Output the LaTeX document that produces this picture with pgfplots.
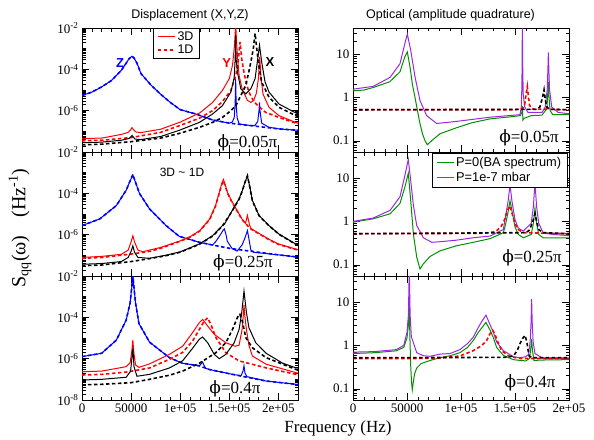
\documentclass[border=0pt]{standalone}
\usepackage{pgfplots}
\pgfplotsset{compat=1.18}
\usepackage{fontspec}
\setmainfont{Liberation Serif}
\setsansfont{Liberation Sans}
\newfontfamily\dvs{DejaVu Serif}
\newcommand{\phis}{{\dvs ϕ}}
\definecolor{cblue}{RGB}{0,0,255}
\definecolor{cred}{RGB}{255,0,0}
\definecolor{cgreen}{RGB}{0,145,0}
\definecolor{cviolet}{RGB}{155,40,220}
\tikzset{sol/.style={line width=1.0pt, mark=none, solid},
  dsh/.style={line width=1.6pt, mark=none, dash pattern=on 3.5pt off 2.5pt}}
\pgfplotsset{every axis/.append style={scale only axis, width=216pt, height=124pt, xmin=0,
    tick align=inside, major tick length=7pt, minor tick length=3.5pt,
    xtick={0,50,100,150,200}, minor x tick num=4,
    xtick pos=both, ytick pos=both,
    every tick/.append style={black,line width=0.5pt},
    axis line style={line width=0.7pt},
    tick label style={font=\fontsize{13}{13}\selectfont}}}
\begin{document}
\begin{tikzpicture}
\useasboundingbox (0,0) rectangle (594pt,-439pt);
% ---------------- L1
\begin{axis}[ymode=log, xmax=220, ymin=1e-8, ymax=1e-2, ytick={1e-8,1e-6,1e-4,1e-2},
  minor ytick={2e-8,3e-8,4e-8,5e-8,6e-8,7e-8,8e-8,9e-8,1e-7,2e-7,3e-7,4e-7,5e-7,6e-7,7e-7,8e-7,9e-7,2e-6,3e-6,4e-6,5e-6,6e-6,7e-6,8e-6,9e-6,1e-5,2e-5,3e-5,4e-5,5e-5,6e-5,7e-5,8e-5,9e-5,2e-4,3e-4,4e-4,5e-4,6e-4,7e-4,8e-4,9e-4,1e-3,2e-3,3e-3,4e-3,5e-3,6e-3,7e-3,8e-3,9e-3},
  yticklabels={,10\textsuperscript{-6},10\textsuperscript{-4},10\textsuperscript{-2}}, xticklabels={},
  at={(82pt,-28pt)}, anchor=north west,
  legend style={at={(0.327,1)}, anchor=north west, font=\sffamily\fontsize{12.5}{12.5}\selectfont,
    draw=black, inner xsep=4pt, inner ysep=1.5pt, row sep=-1pt}]
\addplot[sol,cblue,forget plot] coordinates {(0,5.4e-6)(10,7.9e-6)(20,1.41e-5)(30,2.88e-5)(40,8.9e-5)(45,2.0e-4)(48,3.3e-4)(51,4.3e-4)(53,3.5e-4)(56,2.0e-4)(60,6.3e-5)(70,1.78e-5)(80,6.3e-6)(90,2.5e-6)(100,1.12e-6)(116,6.9e-7)(133,3.55e-7)(150,2.5e-7)(153,2.8e-7)(155,4.5e-7)(156,2.2e-6)(156.5,3.55e-5)(157,2.2e-6)(158,4.5e-7)(160,2.3e-7)(167,2.0e-7)(176,1.9e-7)(179,3.0e-7)(180.3,1.0e-6)(180.8,2.5e-6)(181.3,1.0e-6)(183,2.5e-7)(190,1.6e-7)(200,1.32e-7)(220,1.12e-7)};
\addplot[dsh,cblue,forget plot] coordinates {(0,5.4e-6)(10,7.9e-6)(20,1.41e-5)(30,2.88e-5)(40,8.9e-5)(45,2.0e-4)(48,3.3e-4)(51,4.3e-4)(53,3.5e-4)(56,2.0e-4)(60,6.3e-5)(70,1.78e-5)(80,6.3e-6)(90,2.5e-6)(100,1.12e-6)(116,6.9e-7)(133,3.55e-7)(150,2.5e-7)(167,2.0e-7)(200,1.32e-7)(220,1.12e-7)};
\addplot[sol,cred] coordinates {(0,4.5e-8)(20,4.7e-8)(40,7.1e-8)(47,8.9e-8)(49.5,1.2e-7)(51,1.51e-7)(52.5,1.2e-7)(55,9.3e-8)(60,8.7e-8)(80,1.26e-7)(100,2.8e-7)(120,7.8e-7)(133,2.5e-6)(143,9.5e-6)(150,3.55e-5)(153.3,1.58e-4)(155,1.0e-3)(156,5e-3)(156.5,2e-2)(157,5e-3)(158.3,4.8e-4)(160,5.0e-5)(163.4,1.0e-5)(168.5,3.16e-6)(172,2.5e-6)(175,3.16e-6)(177.6,7.1e-6)(179.7,3.55e-5)(181,4.0e-4)(182.4,3.55e-5)(184.4,6.3e-6)(190.5,1.45e-6)(200.6,5.75e-7)(217.6,2.7e-7)(220,2.5e-7)};
\addlegendentry{3D}
\addplot[dsh,cred] coordinates {(0,3.5e-8)(20,3.7e-8)(50,5.0e-8)(80,8.9e-8)(99,1.86e-7)(119.5,4.3e-7)(133,1.0e-6)(143,2.75e-6)(151.6,9.5e-6)(156.7,5.0e-5)(159.3,3.16e-4)(161,2.1e-3)(162.7,3.16e-4)(165,7.0e-5)(167,2.5e-5)(170,8.0e-6)(175,2.8e-6)(180,1.6e-6)(187,8.3e-7)(200.6,4.7e-7)(217.6,2.5e-7)(220,2.4e-7)};
\addlegendentry{1D}
\addplot[sol,black,forget plot] coordinates {(0,2.8e-8)(20,3.0e-8)(40,3.7e-8)(48,4.5e-8)(51,6.3e-8)(54,4.2e-8)(60,4.0e-8)(80,5.6e-8)(99,1.12e-7)(119.5,2.7e-7)(133,6.9e-7)(143,1.74e-6)(151.6,7.9e-6)(155,4.0e-5)(156,3.16e-4)(156.5,4.5e-3)(157,3.16e-4)(158.3,7.4e-5)(161.7,1.15e-5)(166.8,6.5e-6)(172,1.15e-5)(176.3,3.55e-5)(179,3.3e-4)(180.8,1.48e-3)(183,2.3e-4)(186.4,2.5e-5)(190.5,7.9e-6)(200.6,2.1e-6)(217.6,7.8e-7)(220,7.1e-7)};
\addplot[dsh,black,forget plot] coordinates {(0,2.2e-8)(20,2.4e-8)(50,3.16e-8)(80,4.7e-8)(99,7.9e-8)(119.5,1.55e-7)(133,2.7e-7)(143,4.7e-7)(151.6,1.0e-6)(156.7,1.74e-6)(160,3.7e-6)(166.8,1.66e-5)(170,7.9e-5)(172,2.3e-4)(174.5,1.0e-3)(176.3,5.5e-3)(178,1.0e-3)(180,1.58e-4)(183,2.4e-5)(190.5,4.5e-6)(200.6,1.45e-6)(217.6,5.75e-7)(220,5.2e-7)};
\end{axis}
% ---------------- L2
\begin{axis}[ymode=log, xmax=220, ymin=1e-8, ymax=1e-2, ytick={1e-8,1e-6,1e-4,1e-2},
  minor ytick={2e-8,3e-8,4e-8,5e-8,6e-8,7e-8,8e-8,9e-8,1e-7,2e-7,3e-7,4e-7,5e-7,6e-7,7e-7,8e-7,9e-7,2e-6,3e-6,4e-6,5e-6,6e-6,7e-6,8e-6,9e-6,1e-5,2e-5,3e-5,4e-5,5e-5,6e-5,7e-5,8e-5,9e-5,2e-4,3e-4,4e-4,5e-4,6e-4,7e-4,8e-4,9e-4,1e-3,2e-3,3e-3,4e-3,5e-3,6e-3,7e-3,8e-3,9e-3},
  yticklabels={,10\textsuperscript{-6},10\textsuperscript{-4},10\textsuperscript{-2}}, xticklabels={},
  at={(82pt,-152pt)}, anchor=north west]
\addplot[sol,cblue] coordinates {(0,2.75e-6)(18,5.75e-6)(35,2.57e-5)(45,1.41e-4)(49,4.0e-4)(51.8,7.6e-4)(54,4.0e-4)(58.5,1.0e-4)(68.7,1.78e-5)(85.6,2.75e-6)(99,8.3e-7)(119.5,4.3e-7)(133,3.16e-7)(136,4.5e-7)(141,1.0e-6)(143.5,1.58e-6)(145,1.9e-6)(146.5,1.1e-6)(148,4.8e-7)(153,2.1e-7)(158,1.6e-7)(163,3.16e-7)(166,7.0e-7)(168.5,1.58e-6)(170,6.3e-7)(172,1.8e-7)(175,1.4e-7)(200.6,1.05e-7)(217.6,8.5e-8)(220,8.3e-8)};
\addplot[dsh,cblue] coordinates {(0,2.75e-6)(18,5.75e-6)(35,2.57e-5)(45,1.41e-4)(49,4.0e-4)(51.8,8.3e-4)(54,4.0e-4)(58.5,1.0e-4)(68.7,1.78e-5)(85.6,2.75e-6)(99,8.3e-7)(119.5,4.3e-7)(133,3.16e-7)(150,2.2e-7)(166.8,1.7e-7)(200.6,1.05e-7)(217.6,8.5e-8)(220,8.3e-8)};
\addplot[sol,cred] coordinates {(0,7.9e-8)(20,8.9e-8)(40,1.12e-7)(47,1.78e-7)(50,4.5e-7)(51.8,8.9e-7)(53.5,4.5e-7)(57,1.78e-7)(62,1.5e-7)(80,2.4e-7)(100,5.0e-7)(110,7.9e-7)(120,1.58e-6)(130,5.75e-6)(136,2.57e-5)(140,1.17e-4)(142.5,3.16e-4)(144,4.7e-4)(146,2.5e-4)(148,1.17e-4)(152,4.6e-5)(158,1.48e-5)(163,5.75e-6)(166.5,3.55e-6)(168.5,8.5e-6)(170.5,3.16e-6)(172,2.0e-6)(180,1.17e-6)(190,6.2e-7)(200,3.55e-7)(218,2.0e-7)(220,1.9e-7)};
\addplot[dsh,cred] coordinates {(0,7.2e-8)(20,7.9e-8)(50,1.15e-7)(70,1.58e-7)(80,2.2e-7)(100,4.8e-7)(110,7.6e-7)(120,1.51e-6)(130,5.4e-6)(136,2.4e-5)(140,1.1e-4)(142.5,2.8e-4)(144,4.0e-4)(146,2.24e-4)(148,1.07e-4)(152,4.3e-5)(158,1.38e-5)(163,5.4e-6)(168.5,2.75e-6)(172,1.9e-6)(180,1.12e-6)(190,5.9e-7)(200,3.4e-7)(218,1.9e-7)(220,1.82e-7)};
\addplot[sol,black] coordinates {(0,3.7e-8)(20,4.0e-8)(40,5.0e-8)(47,7.9e-8)(50,1.58e-7)(51.8,2.9e-7)(53.5,1.41e-7)(57,7.9e-8)(68.7,7.2e-8)(85,1.0e-7)(100,1.48e-7)(119.5,3.55e-7)(133,8.9e-7)(143,2.75e-6)(145,3.16e-6)(153,1.48e-5)(160,5.5e-5)(163.4,1.41e-4)(166,3.55e-4)(168.5,6.8e-4)(171,2.0e-4)(173.5,4.6e-5)(180.3,8.5e-6)(190.5,2.75e-6)(200.6,1.07e-6)(217.6,3.55e-7)(220,3.16e-7)};
\addplot[dsh,black] coordinates {(0,3.16e-8)(20,3.4e-8)(50,5.0e-8)(68.7,6.9e-8)(85,9.5e-8)(100,1.41e-7)(119.5,3.4e-7)(133,8.5e-7)(143,2.6e-6)(153,1.41e-5)(160,5.2e-5)(163.4,1.35e-4)(166,3.4e-4)(168.5,7.1e-4)(171,1.9e-4)(173.5,4.4e-5)(180.3,8.3e-6)(190.5,2.7e-6)(200.6,1.05e-6)(217.6,3.4e-7)(220,3.0e-7)};
\end{axis}
% ---------------- L3
\begin{axis}[ymode=log, xmax=220, ymin=1e-8, ymax=1e-2, ytick={1e-8,1e-6,1e-4,1e-2},
  minor ytick={2e-8,3e-8,4e-8,5e-8,6e-8,7e-8,8e-8,9e-8,1e-7,2e-7,3e-7,4e-7,5e-7,6e-7,7e-7,8e-7,9e-7,2e-6,3e-6,4e-6,5e-6,6e-6,7e-6,8e-6,9e-6,1e-5,2e-5,3e-5,4e-5,5e-5,6e-5,7e-5,8e-5,9e-5,2e-4,3e-4,4e-4,5e-4,6e-4,7e-4,8e-4,9e-4,1e-3,2e-3,3e-3,4e-3,5e-3,6e-3,7e-3,8e-3,9e-3},
  yticklabels={10\textsuperscript{-8},10\textsuperscript{-6},10\textsuperscript{-4},10\textsuperscript{-2}},
  xticklabels={0,50000,1e+05,1.5e+05,2e+05},
  at={(82pt,-276pt)}, anchor=north west]
\addplot[sol,cblue] coordinates {(0,1.26e-6)(20,1.82e-6)(35,7.9e-6)(45,7.4e-5)(49,5.0e-4)(50.8,3.16e-3)(51.8,1.26e-2)(52.8,3.16e-3)(54.5,5.0e-4)(58,5.0e-5)(68.8,6.3e-6)(89,1.12e-6)(102.5,6.0e-7)(119.5,4.5e-7)(121.5,5.8e-7)(122.8,6.9e-7)(124.5,4.5e-7)(126,3.4e-7)(129.6,3.0e-7)(153.3,1.74e-7)(162,1.5e-7)(164,2.5e-7)(165,4.5e-7)(166,2.0e-7)(168,1.35e-7)(187.5,8.3e-8)(218,5.75e-8)(220,5.6e-8)};
\addplot[dsh,cblue] coordinates {(0,1.26e-6)(20,1.82e-6)(35,7.9e-6)(45,7.4e-5)(49,5.0e-4)(50.8,3.16e-3)(51.8,1.26e-2)(52.8,3.16e-3)(54.5,5.0e-4)(58,5.0e-5)(68.8,6.3e-6)(89,1.12e-6)(102.5,6.0e-7)(119.5,4.5e-7)(129.6,3.0e-7)(153.3,1.74e-7)(187.5,8.3e-8)(218,5.75e-8)(220,5.6e-8)};
\addplot[sol,cred] coordinates {(0,2.34e-7)(20,2.5e-7)(45,4.1e-7)(49,6.3e-7)(50.8,2.5e-6)(51.8,7.9e-6)(52.8,2.0e-6)(54.5,5.0e-7)(58,3.8e-7)(68.8,5.6e-7)(89,1.62e-6)(102.5,4.0e-6)(112.6,1.82e-5)(119.5,5.5e-5)(122.8,7.9e-5)(128,3.8e-5)(134.7,1.51e-5)(146.5,5.9e-6)(156,4.0e-6)(160,4.5e-6)(163,2.5e-5)(164.3,1.26e-4)(165,4.0e-4)(165.8,1.26e-4)(167.5,2.5e-5)(170,4.5e-6)(173.5,1.35e-6)(187.5,5.4e-7)(218,2.1e-7)(220,2.0e-7)};
\addplot[dsh,cred] coordinates {(0,1.62e-7)(20,1.74e-7)(45,2.24e-7)(68.8,3.55e-7)(89,9.3e-7)(102.5,2.0e-6)(112.6,7.1e-6)(119.5,2.6e-5)(124.5,6.6e-5)(128,9.5e-5)(131.3,4.5e-5)(136.4,1.05e-5)(146.5,1.95e-6)(160,7.8e-7)(187.5,3.6e-7)(218,1.74e-7)(220,1.7e-7)};
\addplot[sol,black] coordinates {(0,9.3e-8)(20,1.0e-7)(45,1.26e-7)(49.5,2.5e-7)(51.8,3.16e-6)(53,4.0e-7)(56,1.41e-7)(68.8,1.74e-7)(89,3.55e-7)(102.5,7.9e-7)(112.6,3.16e-6)(119.5,8.7e-6)(122.8,1.12e-5)(128,5.9e-6)(134.7,1.62e-6)(139.8,1.0e-6)(146.5,1.62e-6)(155,5.9e-6)(160,2.6e-5)(162.7,1.7e-4)(165,1.86e-3)(167.5,1.7e-4)(170,3.16e-5)(177,5.9e-6)(187.5,1.82e-6)(204.5,6.0e-7)(218,3.6e-7)(220,3.5e-7)};
\addplot[dsh,black] coordinates {(0,5.4e-8)(20,5.75e-8)(50,6.9e-8)(68.8,1.0e-7)(89,1.58e-7)(102.5,2.5e-7)(119.5,6.0e-7)(136.4,1.95e-6)(146.5,5.9e-6)(153.3,2.6e-5)(157.4,7.9e-5)(159.5,1.26e-4)(160.8,1.41e-4)(163.4,6.3e-5)(166.8,1.05e-5)(173.5,3.4e-6)(187.5,1.12e-6)(218,3.0e-7)(220,2.8e-7)};
\end{axis}
% ---------------- R1
\begin{axis}[ymode=log, xmax=200, ymin=0.055, ymax=40, ytick={0.1,1,10}, yticklabels={0.1,1,10},
  minor ytick={0.06,0.07,0.08,0.09,0.2,0.3,0.4,0.5,0.6,0.7,0.8,0.9,2,3,4,5,6,7,8,9,20,30},
  xticklabels={}, at={(353pt,-28pt)}, anchor=north west]
\addplot[sol,cgreen] coordinates {(0,1.42)(10,1.48)(19,1.7)(34,2.3)(43.5,3.9)(48,8.7)(50.3,11.2)(52.8,5.0)(55,2.0)(57.4,1.0)(60,0.45)(62,0.25)(64.5,0.14)(66.7,0.1)(68.8,0.081)(72.8,0.1)(80.5,0.145)(96,0.2)(110,0.26)(127,0.32)(145,0.355)(155,0.38)(156.3,0.45)(156.8,0.63)(157.3,0.3)(158.5,0.33)(165,0.38)(175,0.39)(179.5,0.55)(180.3,1.2)(180.9,2.3)(181.5,1.0)(182.5,0.5)(185,0.4)(200,0.4)};
\addplot[sol,cviolet] coordinates {(0,1.55)(18.8,1.8)(34.3,2.9)(43.5,6.0)(48.1,17.8)(50.3,29)(53.4,12.4)(57.4,3.0)(62,0.85)(68.2,0.38)(77.5,0.25)(96,0.28)(127,0.35)(154.6,0.4)(155.8,0.6)(156.3,1.5)(156.6,6)(156.8,60)(157.1,6)(157.6,1.2)(159,0.6)(162,0.45)(175,0.45)(178,0.6)(179.8,1.5)(180.4,4)(180.9,11)(181.4,4)(182,1.5)(184,0.6)(190,0.45)(200,0.42)};
\addplot[dsh,cred] coordinates {(0,0.52)(150,0.52)(157,0.55)(159,0.7)(160.5,1.3)(161.4,1.8)(162.3,1.1)(163.5,0.65)(166,0.54)(200,0.52)};
\addplot[dsh,black] coordinates {(0,0.52)(170,0.53)(173,0.6)(175.5,1.0)(176.9,1.5)(178,0.9)(179.5,0.6)(182,0.53)(200,0.52)};
\end{axis}
% ---------------- R2
\begin{axis}[ymode=log, xmax=200, ymin=0.055, ymax=40, ytick={0.1,1,10}, yticklabels={0.1,1,10},
  minor ytick={0.06,0.07,0.08,0.09,0.2,0.3,0.4,0.5,0.6,0.7,0.8,0.9,2,3,4,5,6,7,8,9,20,30},
  xticklabels={}, at={(353pt,-152pt)}, anchor=north west,
  legend style={at={(0.992,0.99)}, anchor=north east, font=\sffamily\fontsize{12.8}{12.8}\selectfont,
    draw=black, inner xsep=4pt, inner ysep=2pt, row sep=0pt, cells={anchor=west}}]
\addplot[sol,cgreen] coordinates {(0,0.96)(18.8,1.15)(34.3,1.5)(43.5,2.6)(48.1,6.3)(51.2,12.9)(53.4,3.1)(55.9,0.52)(59,0.15)(62,0.08)(65.1,0.105)(71.3,0.155)(80.6,0.21)(96,0.275)(111.4,0.33)(126.9,0.4)(139.2,0.55)(141,0.8)(143.5,1.6)(145.4,3.0)(147.5,1.6)(150,0.75)(153,0.5)(157.7,0.42)(165,0.5)(167,0.9)(168.5,2.0)(170,0.9)(172,0.5)(176,0.42)(200,0.42)};
\addlegendentry{P=0(BA spectrum)}
\addplot[sol,cviolet] coordinates {(0,1.0)(18.8,1.2)(34.3,1.8)(43.5,3.7)(48.1,11.7)(51.2,27)(53.4,8.9)(55.9,2.35)(59,0.81)(65.1,0.42)(72.9,0.33)(80.6,0.34)(96,0.37)(111.4,0.42)(126.9,0.46)(139.2,0.65)(141,1.2)(143.5,2.8)(145.4,6.9)(147.3,2.8)(150,1.1)(153,0.7)(157.7,0.6)(165,0.9)(167,2.2)(168.5,7.9)(170,2.2)(172,0.9)(176,0.55)(185,0.5)(200,0.47)};
\addlegendentry{P=1e-7 mbar}
\addplot[dsh,cred,forget plot] coordinates {(0,0.52)(120,0.53)(132,0.58)(137,0.75)(140,1.05)(143,1.8)(145,2.3)(147,1.6)(150,0.9)(153,0.65)(158,0.55)(200,0.52)};
\addplot[dsh,black,forget plot] coordinates {(0,0.52)(160,0.55)(163,0.62)(166,0.9)(168.5,1.5)(170,1.0)(172,0.65)(176,0.55)(200,0.52)};
\end{axis}
% ---------------- R3
\begin{axis}[ymode=log, xmax=200, ymin=0.055, ymax=40, ytick={0.1,1,10}, yticklabels={0.1,1,10},
  minor ytick={0.06,0.07,0.08,0.09,0.2,0.3,0.4,0.5,0.6,0.7,0.8,0.9,2,3,4,5,6,7,8,9,20,30},
  xticklabels={0,50000,1e+05,1.5e+05,2e+05}, at={(353pt,-276pt)}, anchor=north west]
\addplot[sol,cgreen] coordinates {(0,0.65)(20,0.68)(40,0.75)(47,0.9)(50,1.5)(51.3,3.0)(52.1,7.5)(52.7,1.5)(53.4,0.35)(54.2,0.14)(54.9,0.095)(55.8,0.14)(57,0.22)(59,0.3)(63,0.38)(71.3,0.45)(80.6,0.52)(90,0.58)(99,0.68)(106,0.9)(111.4,1.3)(116,2.0)(119,2.5)(123.1,3.4)(126.9,2.25)(130,1.5)(133,0.9)(139.2,0.59)(148.4,0.47)(155,0.45)(160,0.44)(163.5,0.5)(164.7,0.9)(165.4,1.4)(166.1,0.8)(167.5,0.45)(175,0.46)(200,0.47)};
\addplot[sol,cviolet] coordinates {(0,0.7)(20,0.72)(40,0.8)(47,1.0)(50,2.0)(51.3,5)(52.1,60)(52.9,5)(54,1.6)(55.9,1.15)(59,0.68)(65,0.58)(71.3,0.56)(80.6,0.63)(89.8,0.65)(99,0.8)(106,1.1)(111.4,1.55)(116,2.6)(119,3.5)(123.1,5.0)(126.9,3.0)(130,2.0)(133,1.2)(139.2,0.76)(148.4,0.55)(155,0.52)(160,0.55)(162.5,0.62)(164,1.2)(164.9,3.5)(165.4,11.7)(165.9,3.5)(166.8,1.2)(168.5,0.65)(175,0.52)(200,0.51)};
\addplot[dsh,cred] coordinates {(0,0.5)(60,0.5)(80.6,0.51)(99,0.57)(111.4,0.76)(118,0.95)(123.5,1.25)(126.5,1.8)(129.3,2.24)(131.5,1.8)(133.5,1.3)(137.6,0.76)(145,0.55)(155,0.5)(200,0.5)};
\addplot[dsh,black] coordinates {(0,0.52)(140,0.53)(148.4,0.57)(152,0.75)(154.6,1.1)(157,1.45)(159.3,1.7)(161,1.2)(162,0.8)(163.2,0.57)(166,0.52)(200,0.52)};
\end{axis}
% ---------------- texts
\node[font=\sffamily\fontsize{12.5}{12.5}\selectfont] at (190pt,-15pt) {Displacement (X,Y,Z)};
\node[font=\sffamily\fontsize{12.5}{12.5}\selectfont] at (450.5pt,-15pt) {Optical (amplitude quadrature)};
\node[font=\sffamily\bfseries\fontsize{13}{13}\selectfont, text=cblue] at (120pt,-63pt) {Z};
\node[font=\sffamily\bfseries\fontsize{13}{13}\selectfont, text=cred] at (226.7pt,-63pt) {Y};
\node[font=\sffamily\bfseries\fontsize{13}{13}\selectfont, text=black] at (270pt,-62pt) {X};
\node[font=\sffamily\fontsize{12}{12}\selectfont] at (182pt,-172pt) {3D \textasciitilde{} 1D};
\node[font=\fontsize{17}{17}\selectfont] at (247.5pt,-143pt) {\phis=0.05π};
\node[font=\fontsize{17}{17}\selectfont] at (243pt,-263pt) {\phis=0.25π};
\node[font=\fontsize{17}{17}\selectfont] at (235pt,-389pt) {\phis=0.4π};
\node[font=\fontsize{17}{17}\selectfont] at (529pt,-138pt) {\phis=0.05π};
\node[font=\fontsize{17}{17}\selectfont] at (532pt,-258pt) {\phis=0.25π};
\node[font=\fontsize{17}{17}\selectfont] at (530pt,-383pt) {\phis=0.4π};
\node[rotate=90, font=\fontsize{20}{20}\selectfont] at (20pt,-228pt) {S\textsubscript{qq}(ω)\hspace{0.9em}(Hz\textsuperscript{-1})};
\node[font=\fontsize{17}{17}\selectfont] at (338pt,-428pt) {Frequency (Hz)};
\end{tikzpicture}
\end{document}
